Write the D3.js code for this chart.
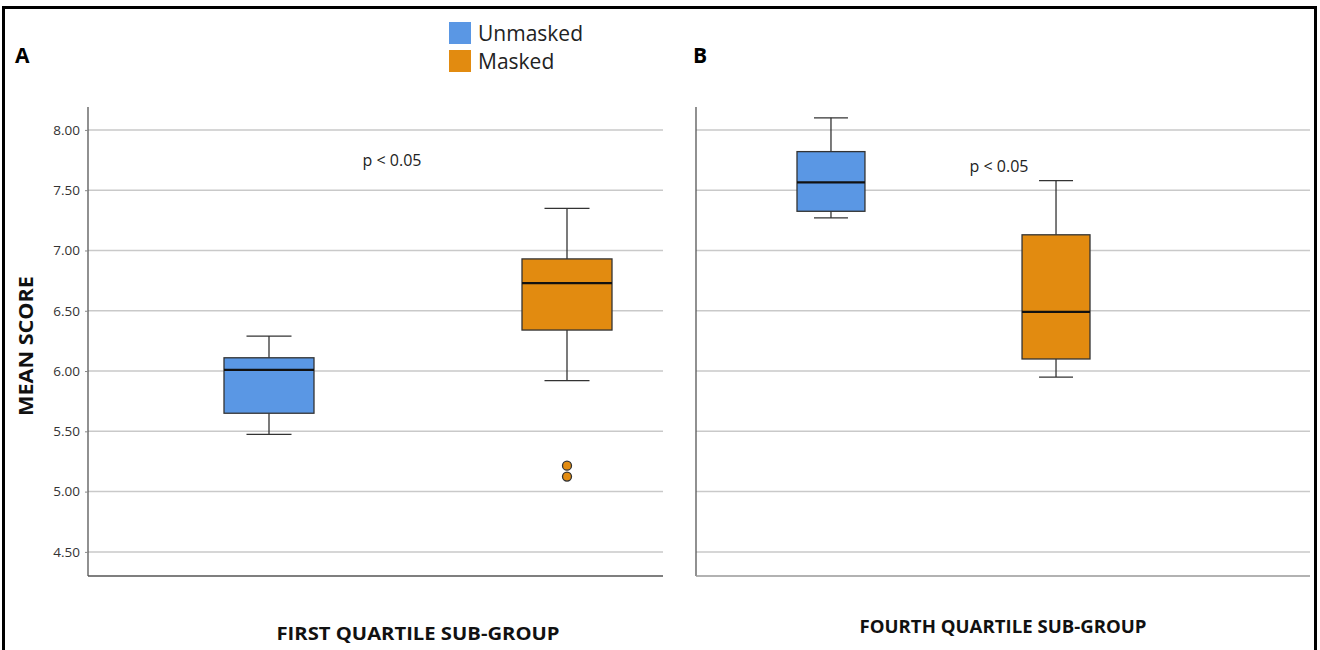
<!DOCTYPE html>
<html>
<head>
<meta charset="utf-8">
<script src="https://cdn.jsdelivr.net/npm/d3@7"></script>
<style>
  body { margin: 0; background: #fff; }
  text { font-family: "Open Sans", "DejaVu Sans", sans-serif; }
</style>
</head>
<body>
<svg id="chart" width="1320" height="650"></svg>
<script>
// groups shown in every panel
const groups = ["Unmasked", "Masked"];
const groupColors = ["#5a97e4", "#e28b10"];
const panelTitles = ["FIRST QUARTILE SUB-GROUP", "FOURTH QUARTILE SUB-GROUP"];
const panelLetters = ["A", "B"];
const pLabels = ["p < 0.05", "p < 0.05"];
const yTicks = [4.5, 5.0, 5.5, 6.0, 6.5, 7.0, 7.5, 8.0];

// box stats: [lower whisker, q1, median, q3, upper whisker]
const firstUnmasked = [5.475, 5.65, 6.01, 6.11, 6.29];
const firstMasked = [5.92, 6.34, 6.73, 6.93, 7.35];
const fourthUnmasked = [7.27, 7.325, 7.565, 7.82, 8.10];
const fourthMasked = [5.95, 6.10, 6.49, 7.13, 7.58];
// outliers
const firstUnmaskedOut = [];
const firstMaskedOut = [5.215, 5.125];
const fourthUnmaskedOut = [];
const fourthMaskedOut = [];

const panelStats = [[firstUnmasked, firstMasked], [fourthUnmasked, fourthMasked]];
const panelOutliers = [[firstUnmaskedOut, firstMaskedOut], [fourthUnmaskedOut, fourthMaskedOut]];

// layout per panel (pixels)
const layout = [
  { x0: 88, x1: 663, boxRange: [224, 612], pX: 392, pY: 166, titleX: 418, titleY: 640, titleW: 283, letterX: 15, axisColor: "#555", showTicks: true },
  { x0: 696, x1: 1310, boxRange: [797, 1090], pX: 999, pY: 172, titleX: 1003, titleY: 633, titleW: 287, letterX: 693, axisColor: "#999", showTicks: false }
];

const svg = d3.select("#chart");

// outer frame
svg.append("rect")
  .attr("x", 3.5).attr("y", 7.5)
  .attr("width", 1312).attr("height", 660)
  .attr("fill", "none").attr("stroke", "#000").attr("stroke-width", 3);

const y = d3.scaleLinear().domain([4.3, 8.19]).range([576, 107]);

layout.forEach((L, pi) => {
  const g = svg.append("g");
  const x = d3.scaleBand().domain(groups).range(L.boxRange).paddingInner(0.698).paddingOuter(0);
  const bw = x.bandwidth();

  // gridlines
  g.selectAll(".grid").data(yTicks).enter().append("line")
    .attr("x1", L.x0).attr("x2", L.x1)
    .attr("y1", d => y(d)).attr("y2", d => y(d))
    .attr("stroke", "#c9c9c9").attr("stroke-width", 1.5);

  // axes
  g.append("line").attr("x1", L.x0).attr("x2", L.x0).attr("y1", 107).attr("y2", 576)
    .attr("stroke", "#555").attr("stroke-width", 1.3);
  g.append("line").attr("x1", L.x0).attr("x2", L.x1).attr("y1", 576).attr("y2", 576)
    .attr("stroke", L.axisColor).attr("stroke-width", 1.5);

  if (L.showTicks) {
    const axis = d3.axisLeft(y).tickValues(yTicks).tickFormat(d3.format(".2f")).tickSize(3).tickPadding(5);
    const ag = g.append("g").attr("transform", `translate(${L.x0},0)`).call(axis);
    ag.select(".domain").remove();
    ag.selectAll(".tick line").attr("stroke", "#888");
    ag.selectAll("text").attr("font-size", 13.5).attr("fill", "#333")
      .attr("font-family", "'Open Sans', sans-serif");
  }

  // boxes
  groups.forEach((grp, gi) => {
    const s = panelStats[pi][gi];
    const cx = x(grp) + bw / 2;
    const bg = g.append("g");
    // whiskers
    bg.append("line").attr("x1", cx).attr("x2", cx).attr("y1", y(s[4])).attr("y2", y(s[3]))
      .attr("stroke", "#333").attr("stroke-width", 1.3);
    bg.append("line").attr("x1", cx).attr("x2", cx).attr("y1", y(s[1])).attr("y2", y(s[0]))
      .attr("stroke", "#333").attr("stroke-width", 1.3);
    [s[0], s[4]].forEach(v => {
      bg.append("line").attr("x1", cx - bw / 4).attr("x2", cx + bw / 4)
        .attr("y1", y(v)).attr("y2", y(v))
        .attr("stroke", "#333").attr("stroke-width", 1.3);
    });
    bg.append("rect")
      .attr("x", x(grp)).attr("y", y(s[3]))
      .attr("width", bw).attr("height", y(s[1]) - y(s[3]))
      .attr("fill", groupColors[gi]).attr("stroke", "#333").attr("stroke-width", 1.3);
    bg.append("line").attr("x1", x(grp)).attr("x2", x(grp) + bw)
      .attr("y1", y(s[2])).attr("y2", y(s[2]))
      .attr("stroke", "#111").attr("stroke-width", 2.2);
    bg.selectAll("circle").data(panelOutliers[pi][gi]).enter().append("circle")
      .attr("cx", cx).attr("cy", d => y(d)).attr("r", 4.5)
      .attr("fill", groupColors[gi]).attr("stroke", "#333").attr("stroke-width", 1.3);
  });

  // p annotation
  g.append("text").attr("x", L.pX).attr("y", L.pY)
    .attr("text-anchor", "middle").attr("font-size", 16).attr("fill", "#222")
    .text(pLabels[pi]);

  // panel title
  g.append("text").attr("x", L.titleX).attr("y", L.titleY)
    .attr("text-anchor", "middle").attr("font-size", 18).attr("font-weight", "bold")
    .attr("textLength", L.titleW).attr("lengthAdjust", "spacingAndGlyphs")
    .attr("fill", "#111").text(panelTitles[pi]);

  // panel letter
  g.append("text").attr("x", L.letterX).attr("y", 63)
    .attr("font-size", 21).attr("font-weight", "bold").attr("fill", "#000")
    .attr("font-family", "Arial, 'Liberation Sans', sans-serif")
    .text(panelLetters[pi]);
});

// y label
svg.append("text")
  .attr("transform", "translate(33,346) rotate(-90)")
  .attr("text-anchor", "middle").attr("font-size", 20).attr("font-weight", "bold")
  .attr("textLength", 140).attr("lengthAdjust", "spacingAndGlyphs")
  .attr("fill", "#111").text("MEAN SCORE");

// legend
const legend = svg.append("g").attr("transform", "translate(449,22)");
groups.forEach((grp, gi) => {
  legend.append("rect").attr("x", 0).attr("y", gi * 28).attr("width", 22).attr("height", 22)
    .attr("fill", groupColors[gi]);
  legend.append("text").attr("x", 29).attr("y", gi * 28 + 19)
    .attr("font-size", 21).attr("fill", "#222").text(grp);
});
</script>
</body>
</html>
